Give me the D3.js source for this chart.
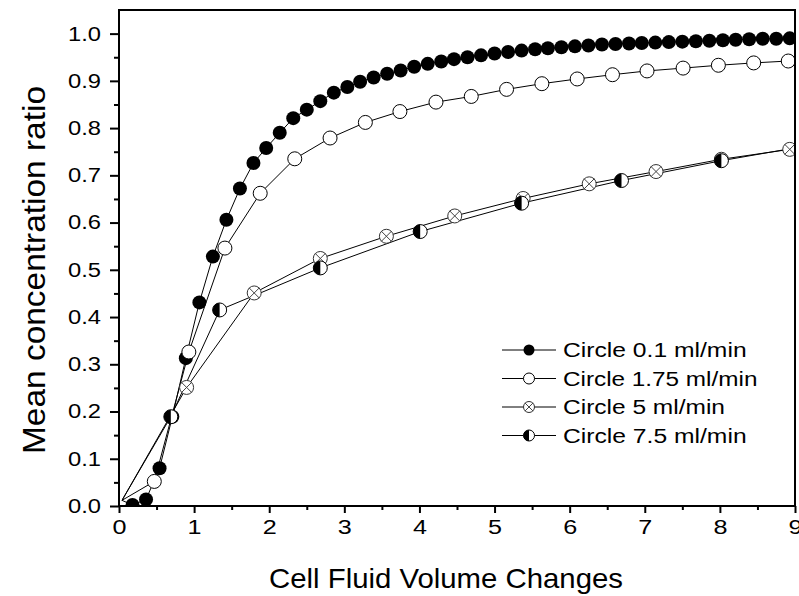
<!DOCTYPE html>
<html>
<head>
<meta charset="utf-8">
<script src="https://cdn.jsdelivr.net/npm/d3@7"></script>
<style>
    body { margin: 0; background: #fff; }
    text { font-family: "Liberation Sans", Arial, sans-serif; fill: #000; }
</style>
</head>
<body>
<svg id="chart"></svg>
<script>
// Series names (legend)
const seriesNames = ["Circle 0.1 ml/min", "Circle 1.75 ml/min", "Circle 5 ml/min", "Circle 7.5 ml/min"];

// Common starting point of all curves
const startPoint = [0.04, 0.012];

// Circle 0.1 ml/min
const x01 = [0.18, 0.36, 0.54, 0.71, 0.89, 1.07, 1.25, 1.43, 1.61, 1.79, 1.96, 2.14, 2.32, 2.50, 2.68,
    2.86, 3.04, 3.21, 3.39, 3.57, 3.75, 3.93, 4.11, 4.29, 4.46, 4.64, 4.82, 5.00, 5.18, 5.36, 5.54, 5.71,
    5.89, 6.07, 6.25, 6.43, 6.61, 6.79, 6.96, 7.14, 7.32, 7.50, 7.68, 7.86, 8.04, 8.21, 8.39, 8.57, 8.75, 8.93];
const y01 = [0.002, 0.014, 0.080, 0.189, 0.313, 0.431, 0.528, 0.606, 0.672, 0.726, 0.758, 0.790, 0.821, 0.839, 0.857,
    0.875, 0.887, 0.898, 0.907, 0.915, 0.922, 0.930, 0.936, 0.941, 0.946, 0.950, 0.954, 0.958, 0.961, 0.964, 0.967, 0.969,
    0.971, 0.973, 0.975, 0.977, 0.978, 0.979, 0.980, 0.981, 0.982, 0.983, 0.984, 0.985, 0.986, 0.987, 0.988, 0.989, 0.989, 0.990];

// Circle 1.75 ml/min
const x175 = [0.47, 0.93, 1.41, 1.88, 2.34, 2.81, 3.28, 3.74, 4.22, 4.69, 5.16, 5.63, 6.10, 6.57, 7.03, 7.51, 7.98, 8.45, 8.91];
const y175 = [0.052, 0.326, 0.546, 0.662, 0.735, 0.779, 0.812, 0.835, 0.855, 0.867, 0.882, 0.894, 0.904, 0.913, 0.921, 0.927, 0.933, 0.938, 0.942];

// Circle 5 ml/min
const x5 = [0.90, 1.80, 2.68, 3.56, 4.47, 5.38, 6.26, 7.15, 8.02, 8.93];
const y5 = [0.251, 0.451, 0.524, 0.571, 0.614, 0.651, 0.682, 0.708, 0.734, 0.755];

// Circle 7.5 ml/min (last point lies past the axis end)
const x75 = [0.69, 1.34, 2.68, 4.01, 5.36, 6.69, 8.02, 9.36];
const y75 = [0.189, 0.415, 0.504, 0.581, 0.641, 0.689, 0.731, 0.768];

// Axis ticks
const xTicks = [0, 1, 2, 3, 4, 5, 6, 7, 8, 9];
const yTicks = [0, 0.1, 0.2, 0.3, 0.4, 0.5, 0.6, 0.7, 0.8, 0.9, 1.0];

const width = 799, height = 596;
const plotLeft = 119, plotRight = 795, plotTop = 10, plotBottom = 506;

const svg = d3.select("#chart")
    .attr("width", width)
    .attr("height", height);

const x = d3.scaleLinear().domain([0, 9]).range([plotLeft, plotRight]);
const y = d3.scaleLinear().domain([0, 1.05]).range([plotBottom, plotTop]);

svg.append("clipPath").attr("id", "plotClip")
    .append("rect")
    .attr("x", plotLeft).attr("y", plotTop)
    .attr("width", plotRight - plotLeft).attr("height", plotBottom - plotTop);

const series = [
    { name: seriesNames[0], xs: x01, ys: y01, marker: "filled" },
    { name: seriesNames[1], xs: x175, ys: y175, marker: "open" },
    { name: seriesNames[2], xs: x5, ys: y5, marker: "crossed" },
    { name: seriesNames[3], xs: x75, ys: y75, marker: "half" }
].map(s => ({ ...s, points: s.xs.map((v, i) => [v, s.ys[i]]) }));

const line = d3.line().x(d => x(d[0])).y(d => y(d[1]));

// Lines
const plot = svg.append("g").attr("clip-path", "url(#plotClip)");
series.forEach(s => {
    plot.append("path")
        .attr("d", line([startPoint, ...s.points]))
        .attr("fill", "none")
        .attr("stroke", "#000")
        .attr("stroke-width", 1);
});

// Draws one marker at (cx, cy)
function drawMarker(g, type, cx, cy, r) {
    const m = g.append("g").attr("transform", `translate(${cx},${cy})`);
    if (type === "filled") {
        m.append("circle").attr("r", r).attr("fill", "#000");
    } else if (type === "open") {
        m.append("circle").attr("r", r).attr("fill", "#fff").attr("stroke", "#000").attr("stroke-width", 1);
    } else if (type === "crossed") {
        m.append("circle").attr("r", r).attr("fill", "#fff").attr("stroke", "#333").attr("stroke-width", 1);
        const k = r * 0.75;
        m.append("path")
            .attr("d", `M${-k},${-k}L${k},${k}M${-k},${k}L${k},${-k}`)
            .attr("stroke", "#444").attr("stroke-width", 1);
    } else if (type === "half") {
        m.append("circle").attr("r", r).attr("fill", "#fff").attr("stroke", "#000").attr("stroke-width", 1);
        m.append("path")
            .attr("d", d3.arc()({ innerRadius: 0, outerRadius: r, startAngle: Math.PI, endAngle: 2 * Math.PI }))
            .attr("fill", "#000");
    }
}

// Markers
series.forEach(s => {
    s.points.filter(d => d[0] <= 9).forEach(d => drawMarker(plot, s.marker, x(d[0]), y(d[1]), 7));
});

// Frame
svg.append("rect")
    .attr("x", plotLeft).attr("y", plotTop)
    .attr("width", plotRight - plotLeft).attr("height", plotBottom - plotTop)
    .attr("fill", "none")
    .attr("stroke", "#000")
    .attr("stroke-width", 2);

// Y axis
const yAxis = svg.append("g").attr("transform", `translate(${plotLeft},0)`)
    .call(d3.axisLeft(y).tickValues(yTicks).tickFormat(d3.format(".1f")).tickSize(9).tickPadding(9));
yAxis.append("g")
    .call(d3.axisLeft(y).tickValues(yTicks.slice(0, -1).map(v => v + 0.05)).tickSize(5).tickFormat(""));
yAxis.selectAll(".domain").remove();
yAxis.selectAll("line").attr("stroke", "#000").attr("stroke-width", 2);
yAxis.selectAll("text")
    .style("font-size", "20px")
    .attr("textLength", 33)
    .attr("lengthAdjust", "spacingAndGlyphs");

// X axis
const xAxis = svg.append("g").attr("transform", `translate(0,${plotBottom})`)
    .call(d3.axisBottom(x).tickValues(xTicks).tickSize(7).tickPadding(7));
xAxis.append("g")
    .call(d3.axisBottom(x).tickValues(xTicks.slice(0, -1).map(v => v + 0.5)).tickSize(4).tickFormat(""));
xAxis.selectAll(".domain").remove();
xAxis.selectAll("line").attr("stroke", "#000").attr("stroke-width", 2);
xAxis.selectAll("text")
    .style("font-size", "20px")
    .attr("textLength", 14)
    .attr("lengthAdjust", "spacingAndGlyphs");

// Axis titles
svg.append("text")
    .attr("x", (plotLeft + plotRight) / 2 - 11)
    .attr("y", 588)
    .attr("text-anchor", "middle")
    .style("font-size", "28px")
    .attr("textLength", 354)
    .attr("lengthAdjust", "spacingAndGlyphs")
    .text("Cell Fluid Volume Changes");

svg.append("text")
    .attr("transform", `translate(45,${(plotTop + plotBottom) / 2 + 12}) rotate(-90)`)
    .attr("text-anchor", "middle")
    .style("font-size", "31px")
    .attr("textLength", 368)
    .attr("lengthAdjust", "spacingAndGlyphs")
    .text("Mean concentration ratio");

// Legend
const legend = svg.append("g").attr("transform", "translate(502,350)");
series.forEach((s, i) => {
    const row = legend.append("g").attr("transform", `translate(0,${i * 28.5})`);
    row.append("line")
        .attr("x1", 0).attr("x2", 54)
        .attr("stroke", "#000").attr("stroke-width", 1);
    drawMarker(row, s.marker, 27, 0, 5.5);
    row.append("text")
        .attr("x", 61)
        .attr("dy", "0.36em")
        .style("font-size", "20px")
        .attr("textLength", s.name.length * 10.8)
        .attr("lengthAdjust", "spacingAndGlyphs")
        .text(s.name);
});
</script>
</body>
</html>
